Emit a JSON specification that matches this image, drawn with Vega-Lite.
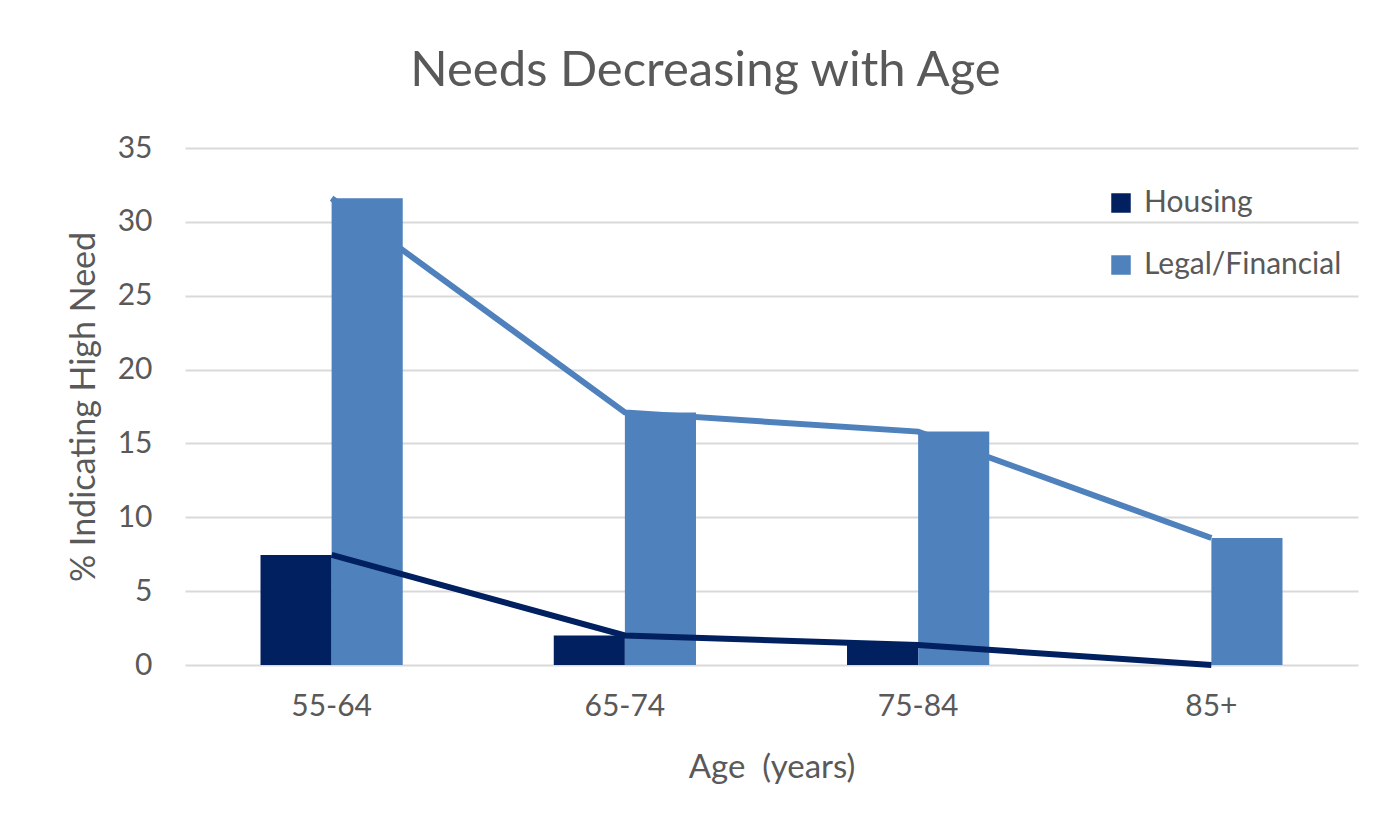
{
  "$schema": "https://vega.github.io/schema/vega-lite/v6.json",
  "autosize": {"type": "none"},
  "width": 1173,
  "height": 517,
  "padding": {"left": 185, "top": 148, "right": 27, "bottom": 169},
  "background": "white",
  "config": {"view": {"stroke": null}},
  "title": {
    "text": "Needs Decreasing with Age",
    "font": "Lato",
    "fontSize": 49,
    "fontWeight": "normal",
    "color": "#595959",
    "anchor": "middle",
    "dx": -66,
    "offset": 37
  },
  "data": {
    "values": [
      {"age": "55-64", "series": "Housing", "value": 7.45},
      {"age": "65-74", "series": "Housing", "value": 2.0},
      {"age": "75-84", "series": "Housing", "value": 1.35},
      {"age": "85+", "series": "Housing", "value": 0},
      {"age": "55-64", "series": "Legal/Financial", "value": 31.6},
      {"age": "65-74", "series": "Legal/Financial", "value": 17.1},
      {"age": "75-84", "series": "Legal/Financial", "value": 15.8},
      {"age": "85+", "series": "Legal/Financial", "value": 8.6}
    ]
  },
  "encoding": {
    "x": {
      "field": "age",
      "type": "nominal",
      "sort": ["55-64", "65-74", "75-84", "85+"],
      "scale": {"paddingInner": 0.515, "paddingOuter": 0.2575},
      "axis": {
        "title": "Age\u00a0\u00a0(years)",
        "labelAngle": 0,
        "labelFont": "Lato",
        "labelFontSize": 30,
        "labelColor": "#595959",
        "labelPadding": 26,
        "titleFont": "Lato",
        "titleFontSize": 33,
        "titleFontWeight": "normal",
        "titleColor": "#595959",
        "titlePadding": 30,
        "ticks": false,
        "domain": false,
        "grid": false
      }
    },
    "y": {
      "field": "value",
      "type": "quantitative",
      "scale": {"domain": [0, 35], "nice": false},
      "axis": {
        "title": "% Indicating High Need",
        "values": [0, 5, 10, 15, 20, 25, 30, 35],
        "labelFont": "Lato",
        "labelFontSize": 30,
        "labelColor": "#595959",
        "labelPadding": 33,
        "titleFont": "Lato",
        "titleFontSize": 34,
        "titleFontWeight": "normal",
        "titleColor": "#595959",
        "titlePadding": 16,
        "ticks": false,
        "domain": false,
        "gridColor": "#d9d9d9",
        "gridWidth": 2
      }
    },
    "color": {
      "field": "series",
      "type": "nominal",
      "scale": {"domain": ["Housing", "Legal/Financial"], "range": ["#002060", "#4f81bd"]},
      "legend": {
        "title": null,
        "orient": "none",
        "legendX": 921,
        "legendY": 40,
        "symbolType": "square",
        "symbolSize": 380,
        "symbolStrokeWidth": 0,
        "symbolOpacity": 1,
        "labelFont": "Lato",
        "labelFontSize": 30,
        "labelColor": "#595959",
        "labelOffset": 8,
        "labelLimit": 400,
        "rowPadding": 32
      }
    }
  },
  "layer": [
    {
      "transform": [{"filter": "datum.series === 'Legal/Financial'"}],
      "mark": {"type": "line", "strokeWidth": 6}
    },
    {
      "mark": {"type": "bar"},
      "encoding": {
        "xOffset": {
          "field": "series",
          "type": "nominal",
          "sort": ["Housing", "Legal/Financial"],
          "scale": {"paddingInner": 0, "paddingOuter": 0}
        }
      }
    },
    {
      "transform": [{"filter": "datum.series === 'Housing'"}],
      "mark": {"type": "line", "strokeWidth": 6}
    }
  ]
}
